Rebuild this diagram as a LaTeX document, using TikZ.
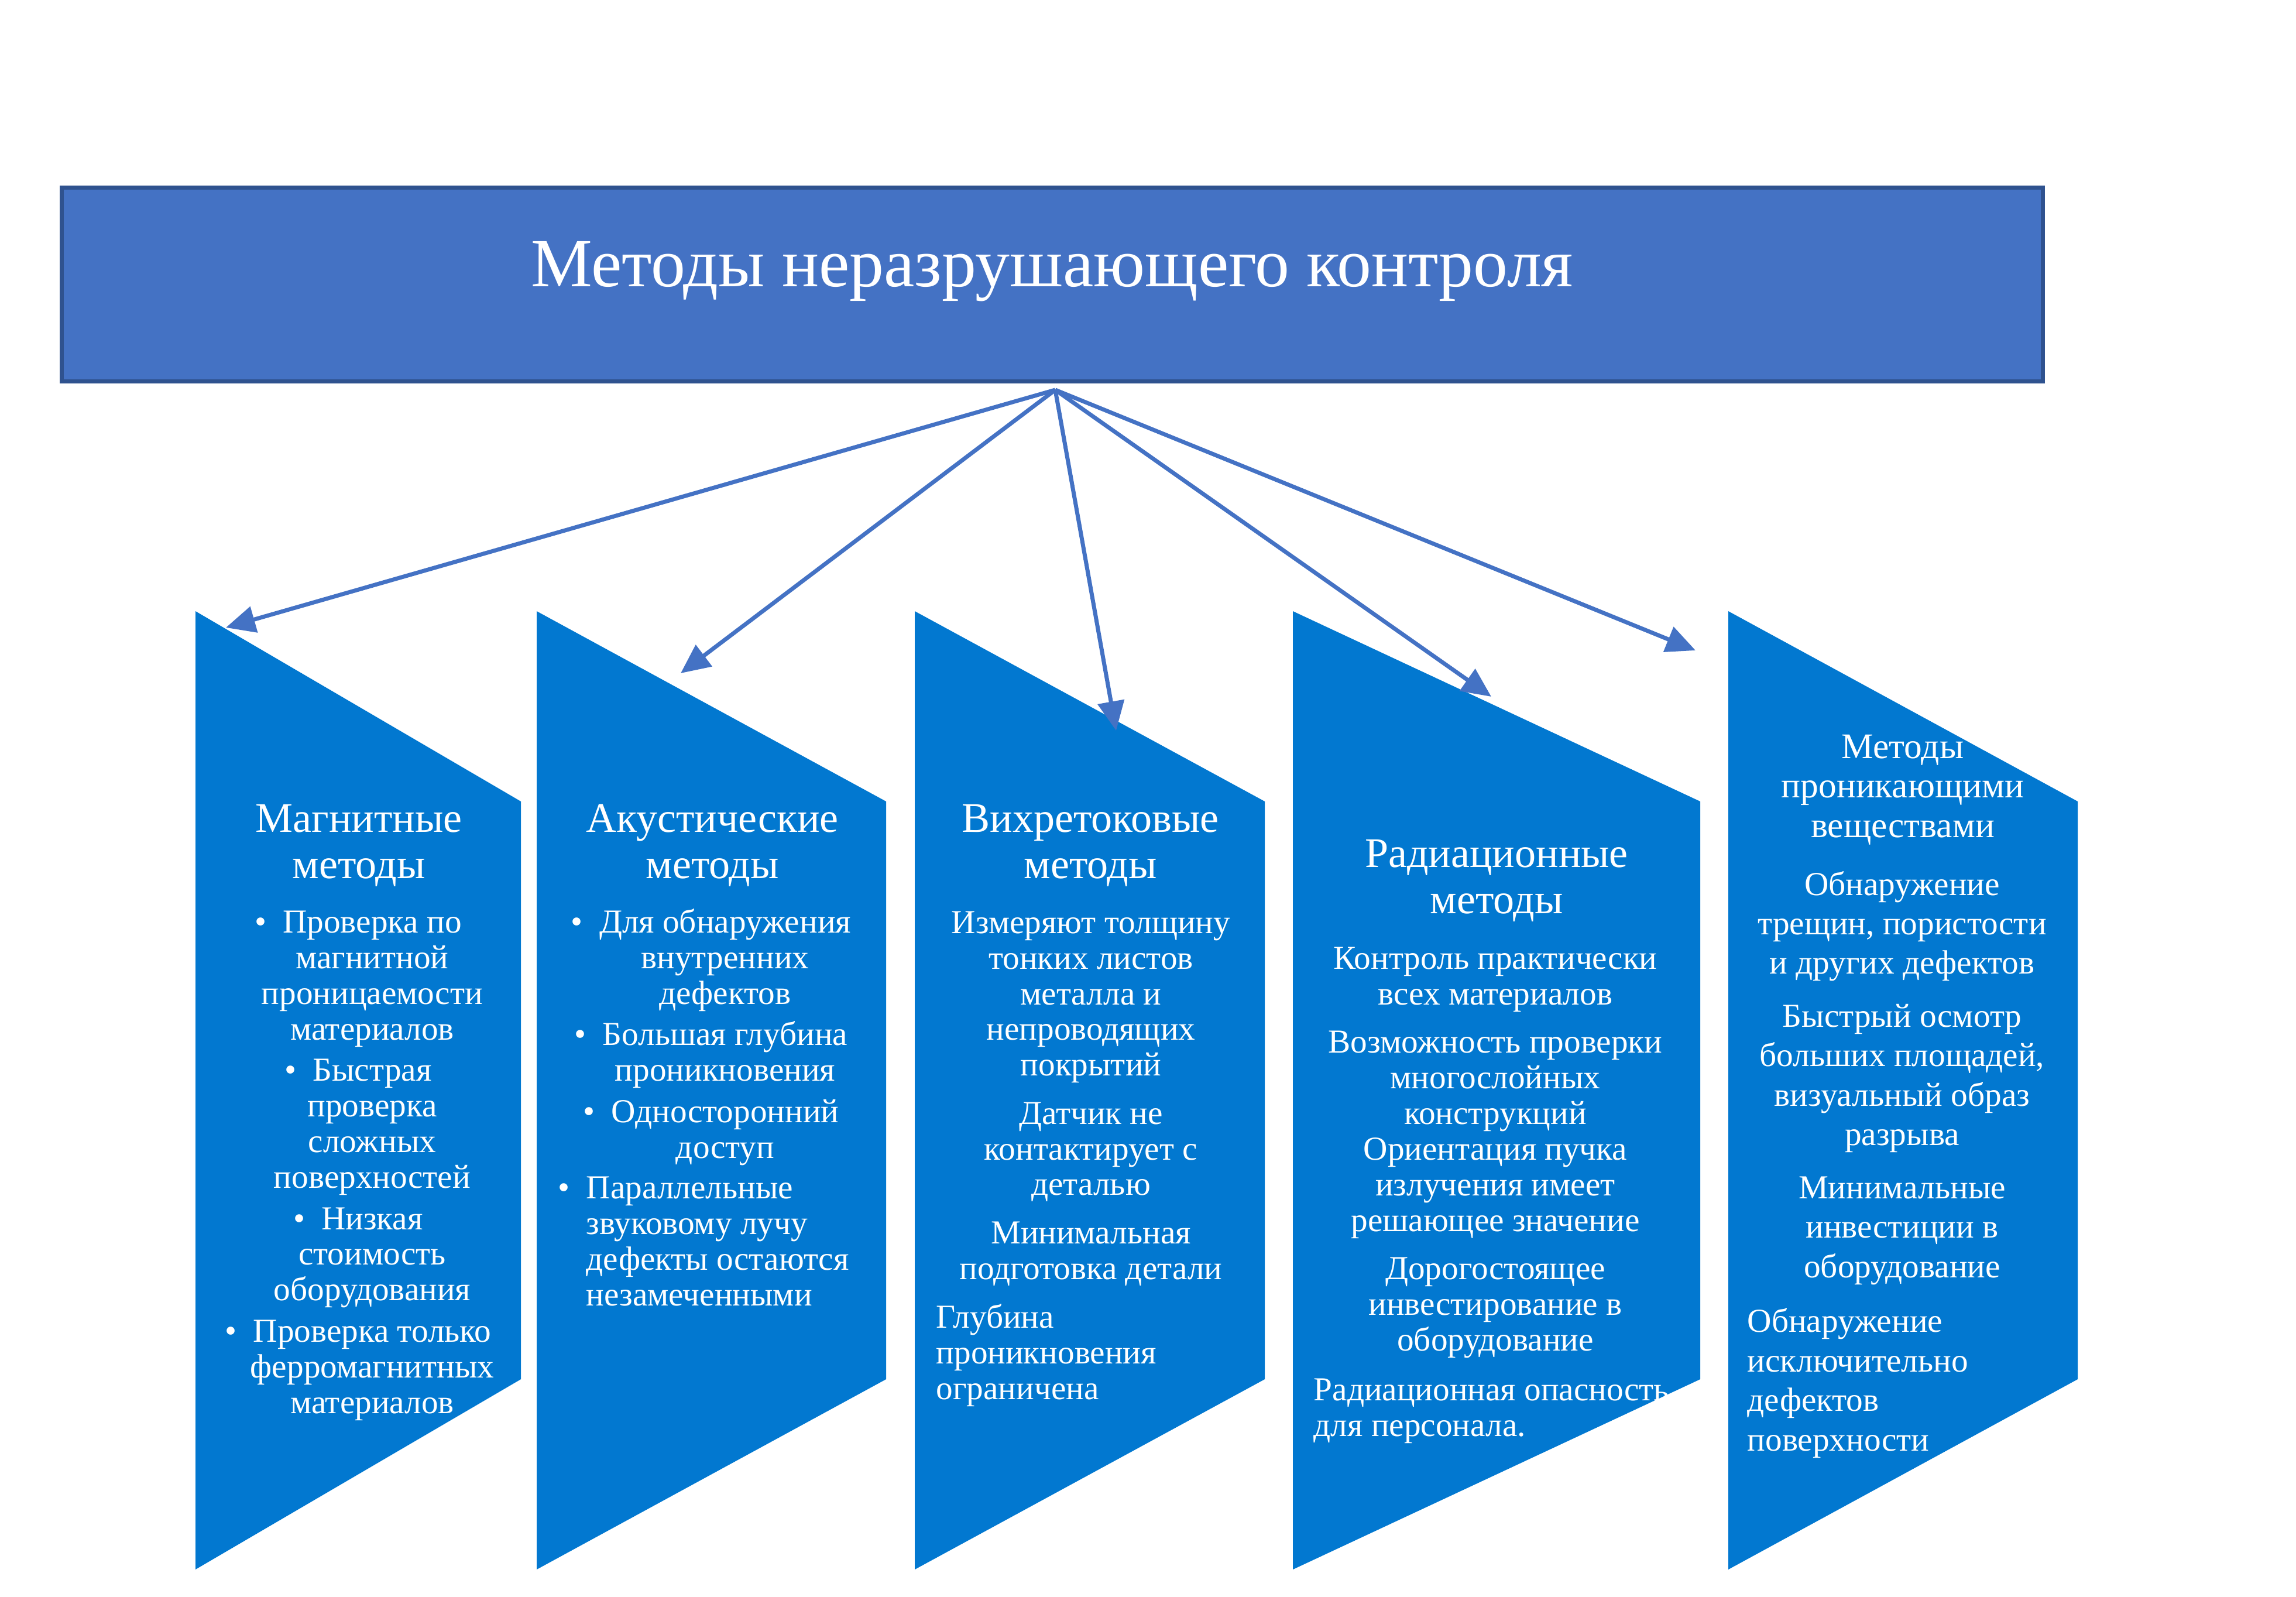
\documentclass[tikz,border=0pt]{standalone}
\usepackage{fontspec}
\setmainfont{Liberation Serif}
\usetikzlibrary{arrows.meta, positioning}
\definecolor{rootblue}{RGB}{68,114,196}
\definecolor{rootedge}{RGB}{47,82,143}
\definecolor{colblue}{RGB}{2,120,208}
\tikzset{
  % Top box
  rootbox/.style={
    rectangle, fill=rootblue, draw=rootedge, line width=0.07cm,
    minimum width=33.85cm, minimum height=3.31cm, text=white,
    font=\fontsize{33.5}{38}\selectfont, text height=0.8cm, text depth=0.73cm
  },
  % Method columns (text nodes sit on the baseline of their last line)
  colshape/.style={fill=colblue},
  coltitle/.style={anchor=base, align=center, text=white, inner sep=0pt,
    font=\fontsize{20.5}{22.2}\selectfont},
  colbody/.style={anchor=base, align=center, text=white, inner sep=0pt,
    font=\fontsize{16.3}{17.35}\selectfont},
  colnote/.style={anchor=base west, align=left, text=white, inner sep=0pt,
    font=\fontsize{16.3}{17.35}\selectfont},
  fanarrow/.style={-{Triangle[length=0.5cm, width=0.45cm]}, line width=0.07cm, color=rootblue}
}
\newcommand{\itembullet}{\llap{•\hspace{8pt}}}

\begin{document}
\begin{tikzpicture}
  \useasboundingbox (0,0) rectangle (39.23,-27.28);

  % Title
  \node[rootbox] (root) at (17.975,-4.855) {Методы неразрушающего контроля};
  \coordinate (hub) at (18.03,-6.66);

  % Columns
  \fill[colshape] (3.34,-10.44) -- (8.90,-13.69) -- (8.90,-23.56) -- (3.34,-26.81) -- cycle;
  \fill[colshape] (9.17,-10.44) -- (15.14,-13.69) -- (15.14,-23.56) -- (9.17,-26.81) -- cycle;
  \fill[colshape] (15.63,-10.44) -- (21.61,-13.69) -- (21.61,-23.56) -- (15.63,-26.81) -- cycle;
  \fill[colshape] (22.09,-10.44) -- (29.05,-13.69) -- (29.05,-23.56) -- (22.09,-26.81) -- cycle;
  \fill[colshape] (29.53,-10.44) -- (35.50,-13.69) -- (35.50,-23.56) -- (29.53,-26.81) -- cycle;

  % Arrow ends
  \coordinate (magn-tip) at (3.86,-10.72);
  \coordinate (acou-tip) at (11.63,-11.50);
  \coordinate (eddy-tip) at (19.07,-12.48);
  \coordinate (radi-tip) at (25.48,-11.90);
  \coordinate (pene-tip) at (28.97,-11.11);

  % Magnetic
  \node[coltitle] (magn-title) at (6.13,-15.00) {Магнитные\\методы};
  \node[colbody] (magn-body) at (6.36,-24.14) {\itembullet Проверка по\\магнитной\\проницаемости\\материалов\\[2.6pt]
    \itembullet Быстрая\\проверка\\сложных\\поверхностей\\[2.6pt]
    \itembullet Низкая\\стоимость\\оборудования\\[2.6pt]
    \itembullet Проверка только\\ферромагнитных\\материалов};

  % Acoustic
  \node[coltitle] (acou-title) at (12.17,-15.00) {Акустические\\методы};
  \node[colbody] (acou-body) at (12.39,-19.78) {\itembullet Для обнаружения\\внутренних\\дефектов\\[2.6pt]
    \itembullet Большая глубина\\проникновения\\[2.6pt]
    \itembullet Односторонний\\доступ};
  \node[colnote] (acou-note) at (10.01,-22.30) {\itembullet Параллельные\\звуковому лучу\\дефекты остаются\\незамеченными};

  % Eddy current
  \node[coltitle] (eddy-title) at (18.63,-15.00) {Вихретоковые\\методы};
  \node[colbody] (eddy-body) at (18.64,-21.85) {Измеряют толщину\\тонких листов\\металла и\\непроводящих\\покрытий\\[6pt]
    Датчик не\\контактирует с\\деталью\\[6pt]
    Минимальная\\подготовка детали};
  \node[colnote] (eddy-note) at (15.99,-23.90) {Глубина\\проникновения\\ограничена};

  % Radiation
  \node[coltitle] (radi-title) at (25.57,-15.60) {Радиационные\\методы};
  \node[colbody] (radi-body) at (25.55,-23.07) {Контроль практически\\всех материалов\\[6pt]
    Возможность проверки\\многослойных\\конструкций\\
    Ориентация пучка\\излучения имеет\\решающее значение\\[6pt]
    Дорогостоящее\\инвестирование в\\оборудование};
  \node[colnote] (radi-note) at (22.44,-24.53) {Радиационная опасность\\для персонала.};

  % Penetrant
  \node[coltitle, font=\fontsize{17.5}{19.2}\selectfont] (pene-title) at (32.51,-14.30) {Методы\\проникающими\\веществами};
  \node[colbody, font=\fontsize{16.3}{19.2}\selectfont] (pene-body) at (32.50,-21.82) {Обнаружение\\трещин, пористости\\и других дефектов\\[6.5pt]
    Быстрый осмотр\\больших площадей,\\визуальный образ\\разрыва\\[6.5pt]
    Минимальные\\инвестиции в\\оборудование};
  \node[colnote, font=\fontsize{16.3}{19.2}\selectfont] (pene-note) at (29.85,-24.78) {Обнаружение\\исключительно\\дефектов\\поверхности};

  % Arrows
  \draw[fanarrow] (hub) -- (magn-tip);
  \draw[fanarrow] (hub) -- (acou-tip);
  \draw[fanarrow] (hub) -- (eddy-tip);
  \draw[fanarrow] (hub) -- (radi-tip);
  \draw[fanarrow] (hub) -- (pene-tip);
\end{tikzpicture}
\end{document}
